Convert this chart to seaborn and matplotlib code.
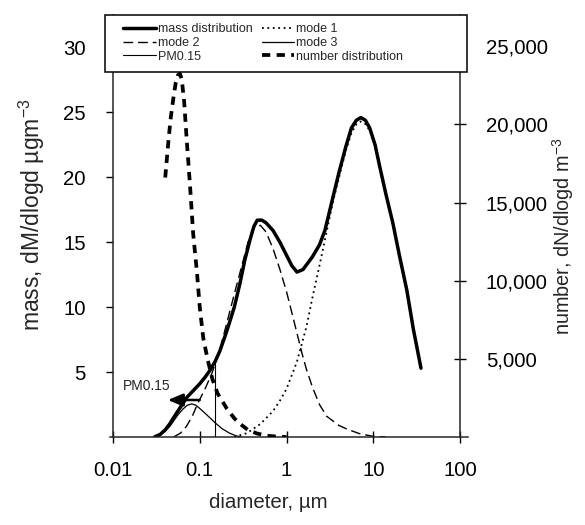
import numpy as np
import matplotlib
matplotlib.use("Agg")
import matplotlib.pyplot as plt
from matplotlib import font_manager
from matplotlib.lines import Line2D
from matplotlib.patches import Rectangle
from matplotlib.ticker import NullLocator, FixedLocator
import seaborn as sns

# ---- size distribution data (diameter in µm) ----
mass_d = [0.030, 0.035, 0.040, 0.045, 0.049, 0.056, 0.064, 0.072, 0.085, 0.100,
          0.115, 0.130, 0.150, 0.170, 0.206, 0.250, 0.290, 0.330, 0.380, 0.420,
          0.460, 0.520, 0.580, 0.700, 0.840, 1.000, 1.150, 1.320, 1.550, 2.000,
          2.400, 2.770, 3.300, 4.000, 4.800, 5.600, 6.400, 7.200, 8.100, 9.100,
          10.50, 11.90, 14.00, 16.80, 20.00, 24.40, 29.00, 35.50]
mass_v = [0.0, 0.2, 0.55, 1.0, 1.4, 2.0, 2.6, 3.1, 3.6, 4.1,
          4.6, 5.1, 5.8, 6.6, 8.2, 10.0, 11.8, 13.6, 15.2, 16.2,
          16.7, 16.7, 16.5, 15.9, 15.0, 14.0, 13.2, 12.7, 12.9, 13.9,
          14.8, 15.9, 18.0, 20.3, 22.3, 23.8, 24.4, 24.6, 24.4, 23.8,
          22.5, 20.8, 18.7, 16.5, 14.0, 11.3, 8.3, 5.3]

mode1_d = [0.25, 0.35, 0.50, 0.70, 0.84, 1.00, 1.32, 1.70, 2.00, 2.40, 2.90,
           3.40, 4.00, 4.80, 5.60, 6.40, 7.20, 8.10, 9.10, 10.5, 11.9, 14.0,
           16.8, 20.0, 24.4, 29.0, 35.5]
mode1_v = [0.0, 0.3, 1.0, 2.0, 2.8, 3.7, 5.8, 8.5, 10.8, 13.2, 15.8,
           18.0, 19.9, 22.0, 23.4, 24.1, 24.3, 24.1, 23.6, 22.4, 20.7, 18.6,
           16.4, 13.9, 11.2, 8.2, 5.2]

mode2_d = [0.050, 0.060, 0.070, 0.082, 0.095, 0.115, 0.138, 0.170, 0.200, 0.250,
           0.300, 0.360, 0.430, 0.500, 0.580, 0.700, 0.840, 1.000, 1.150, 1.320,
           1.500, 1.700, 2.000, 2.400, 2.900, 4.000, 5.000, 7.000, 10.00, 14.00]
mode2_v = [0.0, 0.3, 0.8, 1.6, 2.6, 3.7, 4.9, 6.7, 8.5, 11.0,
           13.0, 15.0, 16.2, 16.3, 15.8, 14.5, 12.9, 11.2, 9.6, 8.0,
           6.5, 5.2, 3.8, 2.5, 1.6, 0.9, 0.6, 0.25, 0.05, 0.0]

mode3_d = [0.030, 0.035, 0.040, 0.045, 0.049, 0.056, 0.064, 0.072, 0.081, 0.090,
           0.100, 0.110, 0.130, 0.150, 0.180, 0.220, 0.260, 0.300]
mode3_v = [0.0, 0.15, 0.45, 0.8, 1.15, 1.7, 2.15, 2.45, 2.55, 2.45,
           2.2, 1.95, 1.5, 1.1, 0.65, 0.3, 0.1, 0.0]

number_d = [0.040, 0.043, 0.046, 0.050, 0.053, 0.056, 0.059, 0.062, 0.066, 0.071,
            0.077, 0.084, 0.093, 0.100, 0.110, 0.124, 0.140, 0.160, 0.206, 0.250,
            0.290, 0.360, 0.460, 0.600, 0.800, 1.000]
number_v = [16600, 18600, 20300, 21800, 22700, 23150, 23250, 22900, 21500, 18900,
            16200, 13000, 10500, 8300, 6300, 4900, 3700, 2800, 1800, 1200,
            850, 450, 220, 80, 20, 0]

pm_cut = 0.15
x_ticks = [0.01, 0.1, 1, 10, 100]
x_ticklabels = ["0.01", "0.1", "1", "10", "100"]
mass_ticks = [5, 10, 15, 20, 25, 30]
number_ticks = [5000, 10000, 15000, 20000, 25000]

# ---- style ----
sns.set_style("ticks")
plt.rcParams["font.family"] = ["Liberation Sans", "DejaVu Sans"]
plt.rcParams["mathtext.fontset"] = "custom"
plt.rcParams["mathtext.rm"] = "Liberation Sans"
plt.rcParams["mathtext.it"] = "Liberation Sans:italic"
plt.rcParams["mathtext.default"] = "regular"
plt.rcParams["axes.linewidth"] = 1.1


def has_font(name):
    try:
        font_manager.findfont(font_manager.FontProperties(family=name),
                              fallback_to_default=False)
        return True
    except Exception:
        return False


if has_font("Liberation Sans Narrow"):
    small_family, legend_size, pm_size = "Liberation Sans Narrow", 11, 12
else:
    small_family, legend_size, pm_size = "Liberation Sans", 9, 10

W, H = 585, 525
fig = plt.figure(figsize=(W / 100, H / 100), dpi=100)
ax = fig.add_axes([113 / W, 1 - 437 / H, (460 - 113) / W, (437 - 15) / H])
ax.set_xscale("log")

# mass-weighted curves
sns.lineplot(x=mass_d, y=mass_v, ax=ax, color="k", linewidth=2.5, legend=False)
h_mass = ax.lines[-1]
sns.lineplot(x=mode1_d, y=mode1_v, ax=ax, color="k", linewidth=1.3,
             linestyle=(0, (1, 2)), legend=False)
h_mode1 = ax.lines[-1]
sns.lineplot(x=mode2_d, y=mode2_v, ax=ax, color="k", linewidth=1.0,
             linestyle=(0, (7, 3.5)), legend=False)
h_mode2 = ax.lines[-1]
sns.lineplot(x=mode3_d, y=mode3_v, ax=ax, color="k", linewidth=0.9, legend=False)
h_mode3 = ax.lines[-1]

# PM0.15 cut line up to the mass curve
pm_top = np.interp(np.log10(pm_cut), np.log10(mass_d), mass_v)
ax.vlines(pm_cut, 0, pm_top, color="k", linewidth=0.8)
h_pm = Line2D([], [], color="k", linewidth=0.8)

ax.annotate("", xy=(0.043, 2.85), xytext=(0.10, 2.85),
            arrowprops=dict(arrowstyle="-|>,head_length=0.9,head_width=0.38",
                            lw=1.8, color="k", shrinkA=0, shrinkB=0))
ax.text(0.0245, 3.9, "PM0.15", ha="center", va="center",
        fontsize=pm_size, family=[small_family, "DejaVu Sans"])

ax.set_xlim(0.01, 100)
ax.set_ylim(0, 32.5)
ax.xaxis.set_major_locator(FixedLocator(x_ticks))
ax.set_xticklabels(x_ticklabels)
ax.xaxis.set_minor_locator(NullLocator())
ax.set_yticks(mass_ticks)
ax.set_yticklabels([str(t) for t in mass_ticks])
ax.tick_params(axis="x", direction="inout", length=9, width=1.0, pad=13,
               labelsize=14.7, colors="k")
ax.tick_params(axis="y", direction="out", length=5, width=1.0, pad=14.5,
               labelsize=14.7, colors="k")
for s in ("top", "right"):
    ax.spines[s].set_visible(False)
# bottom axis line runs a little past both end ticks
ax.spines["bottom"].set_bounds(0.0092, 123)

# number-weighted curve on the secondary axis
ax2 = ax.twinx()
sns.lineplot(x=number_d, y=number_v, ax=ax2, color="k", linewidth=2.7,
             linestyle=(0, (2.2, 1.7)), legend=False)
h_number = ax2.lines[-1]
ax2.set_ylim(0, 27000)
ax2.set_yticks(number_ticks)
ax2.set_yticklabels([f"{t:,}" for t in number_ticks])
ax2.yaxis.set_minor_locator(NullLocator())
ax2.tick_params(axis="y", direction="inout", length=9, width=1.0, pad=14,
                labelsize=14.7, colors="k")
for s in ("top", "left", "bottom"):
    ax2.spines[s].set_visible(False)
ax2.spines["right"].set_linewidth(1.1)
ax.set_xlabel("")
ax.set_ylabel("")
ax2.set_ylabel("")

fig.text(32 / W, 1 - 215 / H, "mass, dM/dlogd µgm$^{-3}$", rotation=90,
         ha="center", va="center", fontsize=16.5)
fig.text(563 / W, 1 - 236 / H, "number, dN/dlogd m$^{-3}$", rotation=90,
         ha="center", va="center", fontsize=14.3)
fig.text(268 / W, 1 - 503 / H, "diameter, µm", ha="center", va="center",
         fontsize=14.8)

# legend box
fig.patches.append(Rectangle((105 / W, 1 - 72 / H), 362 / W, 57 / H,
                             transform=fig.transFigure, facecolor="white",
                             edgecolor="k", linewidth=1.1, zorder=4))
handles = [h_mass, h_mode2, h_pm, h_mode1, h_mode3, h_number]
labels = ["mass distribution", "mode 2", "PM0.15",
          "mode 1", "mode 3", "number distribution"]
leg = fig.legend(handles, labels, ncol=2, loc="upper left",
                 bbox_to_anchor=(123 / W, 1 - 23 / H), frameon=False,
                 borderpad=0, borderaxespad=0, handlelength=2.6,
                 handletextpad=0.2, columnspacing=0.7, labelspacing=0.15,
                 prop={"family": [small_family, "DejaVu Sans"], "size": legend_size})
leg.set_zorder(5)

fig.savefig("out.png", dpi=100, facecolor="white")
